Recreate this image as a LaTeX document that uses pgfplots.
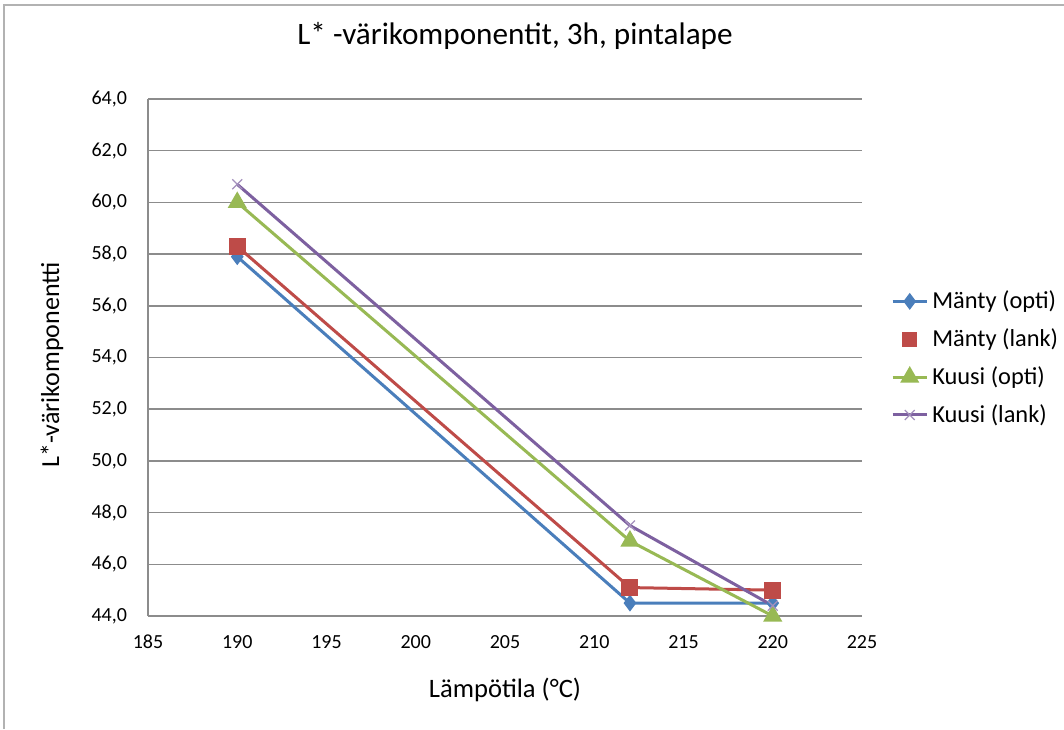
\documentclass[border=0pt]{standalone}
\usepackage{pgfplots}
\pgfplotsset{compat=1.18}
\usepackage{fontspec}
\setmainfont{Carlito}
\definecolor{c1}{HTML}{4A7EBB}
\definecolor{c2}{HTML}{BE4B48}
\definecolor{c3}{HTML}{98B954}
\definecolor{c4}{HTML}{7D60A0}
\definecolor{gridc}{HTML}{8C8C8C}
\begin{document}
\begin{tikzpicture}
\path[use as bounding box] (0,0) rectangle (532pt,364.5pt);
\fill[white] (0,0) rectangle (532pt,364.5pt);
\draw[gray!60, line width=0.8pt] (2pt,0) -- (2pt,362pt) -- (532pt,362pt);
\node[font=\fontsize{15.6}{18}\selectfont] at (257.5pt,346.5pt) {L* -värikomponentit, 3h, pintalape};
\node[font=\fontsize{13.3}{15}\selectfont] at (252.5pt,19.5pt) {Lämpötila (°C)};
\node[font=\fontsize{13}{15}\selectfont, rotate=90] at (26pt,182pt) {L*-värikomponentti};
\begin{axis}[
  at={(74pt,56.5pt)}, anchor=south west, scale only axis,
  width=357pt, height=258.5pt,
  xmin=185, xmax=225, ymin=44, ymax=64,
  xtick={185,190,...,225}, ytick={44,46,...,64},
  axis x line*=bottom, axis y line*=left,
  axis line style={draw=gridc, line width=0.8pt},
  ymajorgrids, grid style={draw=gridc, line width=0.8pt},
  major tick length=0pt,
  clip=false,
  /pgf/number format/assume math mode=true,
  ticklabel style={font=\fontsize{10}{12}\selectfont},
  y tick label style={xshift=-7pt, /pgf/number format/.cd, fixed, fixed zerofill, precision=1, use comma},
  x tick label style={yshift=-6pt, /pgf/number format/.cd, 1000 sep={}},
  legend style={at={(1.032,0.645)}, anchor=north west, draw=none, fill=none,
    font=\fontsize{12.2}{14}\selectfont, row sep=4.5pt, legend cell align=left,
    /tikz/every even column/.append style={column sep=1pt}},
  legend image code/.code={\draw[mark repeat=2,mark phase=2,#1] plot coordinates {(0pt,0pt) (8.5pt,0pt) (17pt,0pt)};},
]
\addlegendimage{c1, line width=1.5pt, mark=diamond*, mark size=3pt, mark options={fill=c1, draw=c1}}
\addlegendimage{only marks, c2, mark=square*, mark size=3.5pt, mark options={fill=c2, draw=c2}}
\addlegendimage{c3, line width=1.5pt, mark=triangle*, mark size=4pt, mark options={fill=c3, draw=c3}}
\addlegendimage{c4, line width=1.5pt, mark=x, mark size=3.5pt, mark options={draw=c4!70, line width=0.6pt}}
\addplot[forget plot, c1, line width=1.5pt, mark=diamond*, mark size=3pt, mark options={fill=c1, draw=c1}] coordinates {(190,57.9) (212,44.5) (220,44.5)};
\addplot[forget plot, c2, line width=1.5pt, mark=square*, mark size=3.5pt, mark options={fill=c2, draw=c2}] coordinates {(190,58.3) (212,45.1) (220,45.0)};
\addplot[forget plot, c3, line width=1.5pt, mark=triangle*, mark size=4pt, mark options={fill=c3, draw=c3}] coordinates {(190,60.0) (212,46.9) (220,44.0)};
\addplot[forget plot, c4, line width=1.5pt, mark=x, mark size=3.5pt, mark options={draw=c4!70, line width=0.6pt}] coordinates {(190,60.7) (212,47.5) (220,44.4)};
\legend{Mänty (opti), Mänty (lank), Kuusi (opti), Kuusi (lank)}
\end{axis}
\end{tikzpicture}
\end{document}
